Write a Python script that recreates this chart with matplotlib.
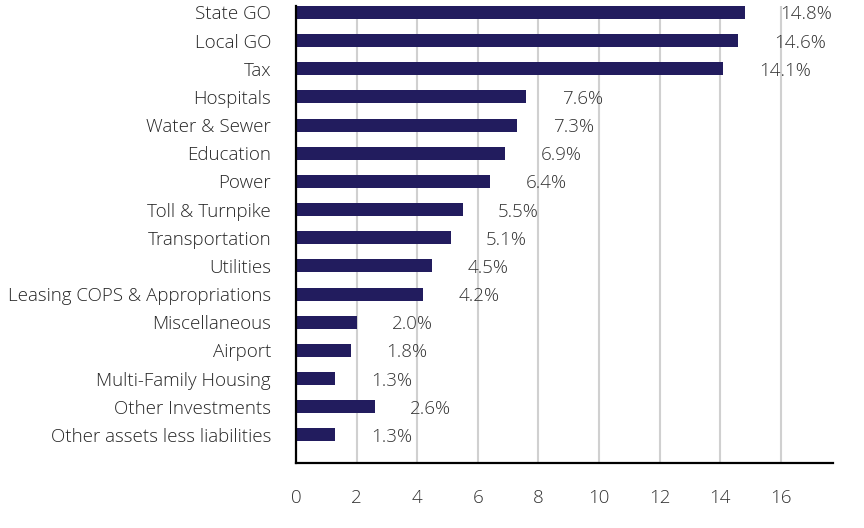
import matplotlib
matplotlib.use("Agg")
import matplotlib.pyplot as plt

categories = ["State GO", "Local GO", "Tax", "Hospitals", "Water & Sewer", "Education",
              "Power", "Toll & Turnpike", "Transportation", "Utilities",
              "Leasing COPS & Appropriations", "Miscellaneous", "Airport",
              "Multi-Family Housing", "Other Investments", "Other assets less liabilities"]
values = [14.8, 14.6, 14.1, 7.6, 7.3, 6.9, 6.4, 5.5, 5.1, 4.5, 4.2, 2.0, 1.8, 1.3, 2.6, 1.3]
xticks = [0, 2, 4, 6, 8, 10, 12, 14, 16]

plt.rcParams['font.family'] = ['Open Sans', 'DejaVu Sans']
plt.rcParams['font.weight'] = 'light'

fig = plt.figure(figsize=(8.64, 5.28), dpi=100)
ax = fig.add_axes([296/864, 1 - 463/528, (833-296)/864, (463-6)/528])

y = list(range(len(categories)))
ax.barh(y, values, height=0.46, color='#221c5e', zorder=3)
for yi, v in zip(y, values):
    ax.annotate(f"{v:.1f}%", xy=(v, yi), xytext=(25.5, 0), textcoords='offset points',
                ha='left', va='center_baseline', fontsize=13.5, color='#333333', fontweight='light')

ax.set_yticks(y)
ax.set_yticklabels(categories, fontsize=13.5, color='#262626')
for lbl in ax.get_yticklabels():
    lbl.set_verticalalignment('center_baseline')
ax.set_xticks(xticks)
ax.set_xticklabels([str(t) for t in xticks], fontsize=13.5, color='#333333')
ax.set_xlim(0, 17.72)
ax.set_ylim(len(categories) - 1 + 1.0, -0.23)
ax.tick_params(axis='y', length=0, pad=18)
ax.tick_params(axis='x', length=0, pad=19)
ax.grid(axis='x', color='#d0d0d0', linewidth=1.5, zorder=0)
ax.set_axisbelow(True)
for s in ['top', 'right']:
    ax.spines[s].set_visible(False)
for s in ['left', 'bottom']:
    ax.spines[s].set_linewidth(1.6)
    ax.spines[s].set_color('black')
    ax.spines[s].set_zorder(4)

fig.savefig("out.png", dpi=100)
